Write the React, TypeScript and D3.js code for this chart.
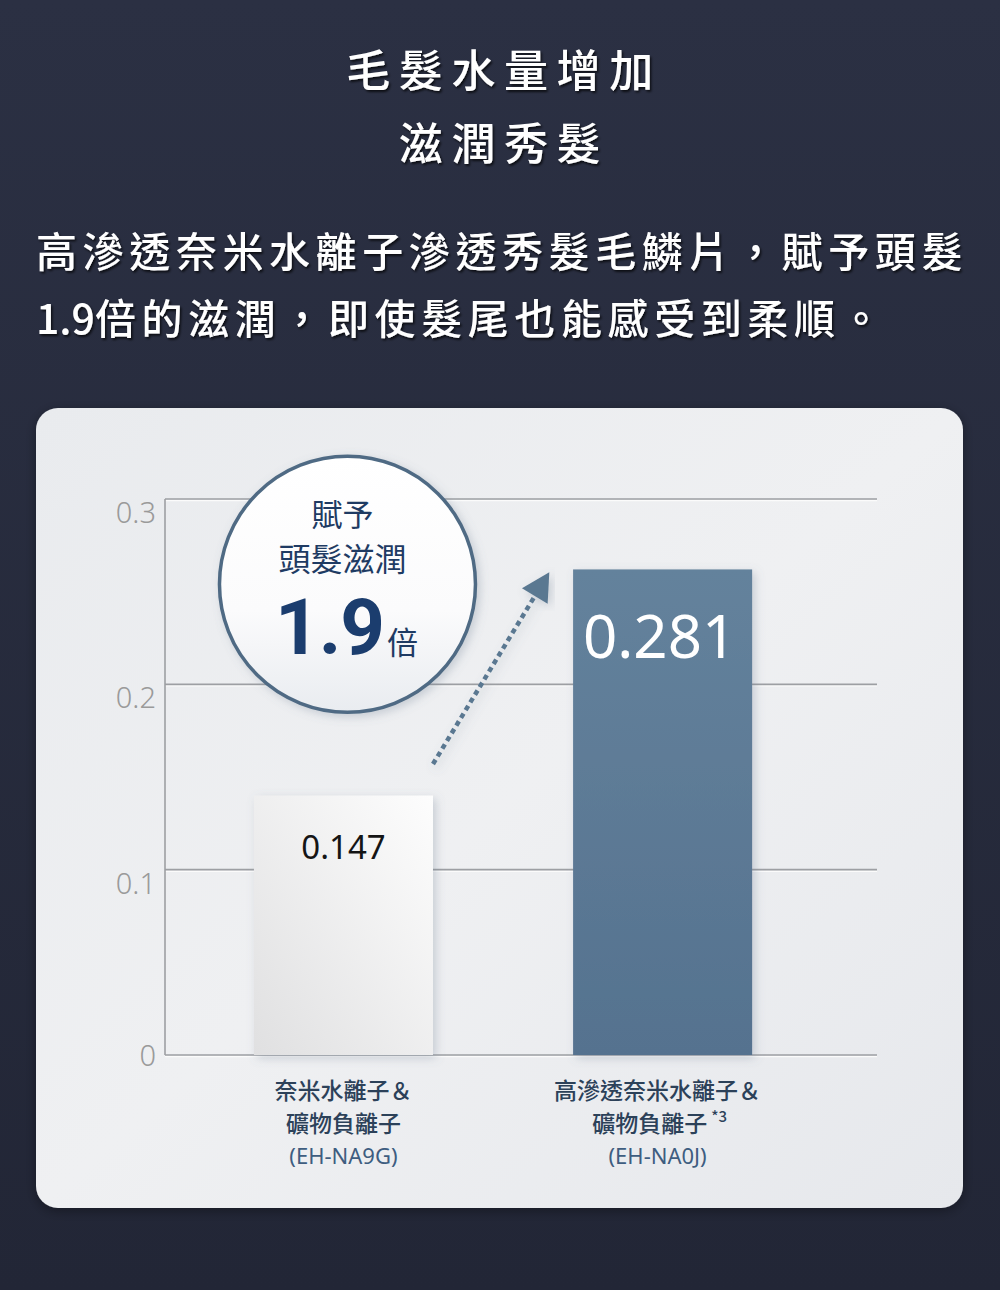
import React from 'react';
import * as d3 from 'd3';

// chart data
const categories = ['nine', 'zero'];
const valueLabels = ['0.147', '0.281'];
// bar heights as drawn in the source (the bars are not to scale with their labels)
const barLevels = [0.14, 0.262];
const yTicks = [0, 0.1, 0.2, 0.3];
const catLine1 = ['奈米水離子＆', '高滲透奈米水離子＆'];
const catLine2 = ['礦物負離子', '礦物負離子'];
const catNote = ['', '*3'];
const catModel = ['(EH-NA9G)', '(EH-NA0J)'];

const titleLines = ['毛髮水量增加', '滋潤秀髮'];
const bodyLine1 = '高滲透奈米水離子滲透秀髮毛鱗片，賦予頭髮';
const bodyLine2 = ['1.9', '倍的滋潤，即使髮尾也能感受到柔順。'];

const W = 1000;
const H = 1290;
const CJK = '"Noto Sans CJK TC", "Noto Sans CJK SC", sans-serif';
const NUM = '"Noto Sans", "Lato", sans-serif';

export default function App() {
  const x = d3.scaleBand<string>()
    .domain(categories)
    .range([165, 877])
    .paddingInner(0.439)
    .paddingOuter(0.335)
    .align(0.416);

  const y = d3.scaleLinear().domain([0, 0.3]).range([1055, 499]);
  const bw = x.bandwidth();
  const cx = (c: string) => (x(c) || 0) + bw / 2;

  // annotation positions hang off the scales
  const circle = { cx: cx(categories[0]) + 4, cy: y(0.254), r: 128 };
  const a0 = { x: (x(categories[0]) || 0) + bw, y: y(0.157) };
  const a1 = { x: (x(categories[1]) || 0) - 30, y: y(0.255) };
  const ang = Math.atan2(a1.y - a0.y, a1.x - a0.x);
  const head = 28;
  const tip = { x: a1.x + Math.cos(ang) * 12, y: a1.y + Math.sin(ang) * 12 };
  const base = { x: tip.x - Math.cos(ang) * head, y: tip.y - Math.sin(ang) * head };
  const perp = ang + Math.PI / 2;
  const headPts = [
    [tip.x, tip.y],
    [base.x + Math.cos(perp) * 15, base.y + Math.sin(perp) * 15],
    [base.x - Math.cos(perp) * 15, base.y - Math.sin(perp) * 15],
  ].map(p => p.join(',')).join(' ');

  return (
    <div style={{ position: 'absolute', left: 0, top: 0 }}>
      <svg width={W} height={H} viewBox={`0 0 ${W} ${H}`} style={{ display: 'block' }}>
        <defs>
          <linearGradient id="bg" x1="0" y1="0" x2="0" y2="1">
            <stop offset="0" stopColor="#2b3043" />
            <stop offset="1" stopColor="#222636" />
          </linearGradient>
          <linearGradient id="card" x1="0" y1="0" x2="1" y2="1">
            <stop offset="0" stopColor="#e9ebee" />
            <stop offset="0.5" stopColor="#eff0f2" />
            <stop offset="1" stopColor="#e6e8ec" />
          </linearGradient>
          <linearGradient id="bar0" x1="1" y1="0" x2="0" y2="1">
            <stop offset="0" stopColor="#fdfdfd" />
            <stop offset="1" stopColor="#e0e0e1" />
          </linearGradient>
          <linearGradient id="bar1" x1="0" y1="0" x2="0" y2="1">
            <stop offset="0" stopColor="#64829c" />
            <stop offset="1" stopColor="#55728f" />
          </linearGradient>
          <linearGradient id="bubble" x1="0" y1="0" x2="0" y2="1">
            <stop offset="0" stopColor="#ffffff" />
            <stop offset="0.6" stopColor="#fbfbfc" />
            <stop offset="1" stopColor="#e9ecf0" />
          </linearGradient>
          <filter id="txtShadow" x="-10%" y="-30%" width="120%" height="160%">
            <feDropShadow dx="1.5" dy="2" stdDeviation="1" floodColor="#000" floodOpacity="0.7" />
          </filter>
          <filter id="soft" x="-20%" y="-20%" width="140%" height="140%">
            <feDropShadow dx="3" dy="3" stdDeviation="5" floodColor="#6a7a8e" floodOpacity="0.3" />
          </filter>
          <filter id="cardShadow" x="-5%" y="-5%" width="110%" height="110%">
            <feDropShadow dx="0" dy="3" stdDeviation="6" floodColor="#000" floodOpacity="0.35" />
          </filter>
        </defs>

        <rect width={W} height={H} fill="url(#bg)" />

        {/* heading */}
        <g filter="url(#txtShadow)" fill="#ffffff" fontFamily={CJK} fontWeight={500}>
          {titleLines.map((t, i) => (
            <text key={t} x={W / 2 + 4} y={87 + i * 73} fontSize={44} letterSpacing={8.6} textAnchor="middle">{t}</text>
          ))}
          <text x={36} y={267} fontSize={41} letterSpacing={5.6}>{bodyLine1}</text>
          <text x={36} y={334} fontSize={41}>
            <tspan letterSpacing={0}>{bodyLine2[0]}</tspan>
            <tspan letterSpacing={5.6}>{bodyLine2[1]}</tspan>
          </text>
        </g>

        {/* card */}
        <rect x={36} y={408} width={927} height={800} rx={22} fill="url(#card)" filter="url(#cardShadow)" />

        {/* grid + axis */}
        <g>
          {yTicks.map(t => (
            <g key={t}>
              <line x1={165} x2={877} y1={y(t) + 1.5} y2={y(t) + 1.5} stroke="#fbfbfb" strokeWidth={1.5} />
              <line x1={165} x2={877} y1={y(t)} y2={y(t)} stroke="#9d9fa3" strokeWidth={1.6} />
              <text x={156} y={y(t) + (t === 0 ? 11 : 24)} textAnchor="end" fontFamily={NUM} fontWeight={300}
                fontSize={29} fill="#9a9a9a">{t === 0 ? '0' : d3.format('.1f')(t)}</text>
            </g>
          ))}
          <line x1={165} x2={165} y1={y(0.3)} y2={y(0)} stroke="#9d9fa3" strokeWidth={1.6} />
        </g>

        {/* bars */}
        {categories.map((c, i) => (
          <rect key={c} x={x(c)} y={y(barLevels[i])} width={bw} height={y(0) - y(barLevels[i])}
            fill={`url(#bar${i})`} filter="url(#soft)" />
        ))}
        <text x={cx(categories[0])} y={y(barLevels[0]) + 63} textAnchor="middle" fontFamily={NUM}
          fontSize={33} fill="#151515">{valueLabels[0]}</text>
        <text x={cx(categories[1]) - 3} y={y(barLevels[1]) + 89} textAnchor="middle" fontFamily={NUM}
          fontSize={60} fill="#ffffff">{valueLabels[1]}</text>

        {/* category labels */}
        {categories.map((c, i) => (
          <g key={c} fontFamily={CJK} textAnchor="middle">
            <text x={cx(c) - (i ? 5 : 0)} y={1099} fontSize={23} fontWeight={500} fill="#2c4159">{catLine1[i]}</text>
            <text x={cx(c) - (i ? 3 : 0)} y={1132} fontSize={23} fontWeight={500} fill="#2c4159">
              {catLine2[i]}
              {catNote[i] && <tspan fontSize={15} dy={-10} dx={4}>{catNote[i]}</tspan>}
            </text>
            <text x={cx(c) - (i ? 5 : 0)} y={1164} fontSize={22} fontFamily={NUM} fill="#3e5d80">{catModel[i]}</text>
          </g>
        ))}

        {/* dotted arrow */}
        <line x1={a0.x} y1={a0.y} x2={base.x + Math.cos(ang) * 4} y2={base.y + Math.sin(ang) * 4}
          stroke="#5a7891" strokeWidth={4.5} strokeDasharray="5 4" filter="url(#soft)" />
        <polygon points={headPts} fill="#5a7891" filter="url(#soft)" />

        {/* bubble */}
        <circle cx={circle.cx} cy={circle.cy} r={circle.r} fill="url(#bubble)" stroke="#4f6b84" strokeWidth={3.5}
          filter="url(#soft)" />
        <g textAnchor="middle" fontFamily={CJK} fill="#1f3b63">
          <text x={circle.cx - 5} y={circle.cy - 58} fontSize={31}>賦予</text>
          <text x={circle.cx - 5} y={circle.cy - 13} fontSize={32}>頭髮滋潤</text>
          <text x={circle.cx - 18} y={circle.cy + 70} fontSize={78} fontFamily='Roboto, "Noto Sans", sans-serif'
            fontWeight={700} fill="#1b3d6e" letterSpacing={-1}>1.9</text>
          <text x={circle.cx + 55} y={circle.cy + 70} fontSize={31}>倍</text>
        </g>
      </svg>
    </div>
  );
}
